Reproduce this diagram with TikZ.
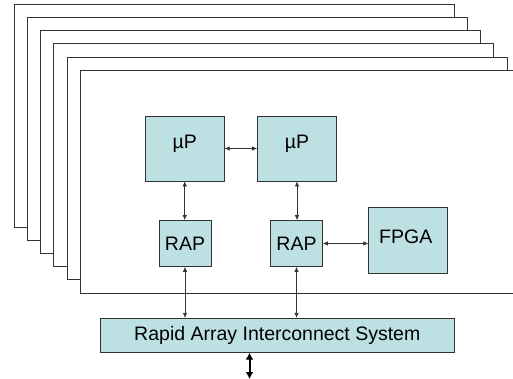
\documentclass[tikz,border=0pt]{standalone}
\usepackage{fontspec}
\setmainfont{Liberation Sans}
\usetikzlibrary{arrows.meta}
\definecolor{boxfill}{HTML}{BDE0E3}
\definecolor{lncol}{HTML}{333333}
\tikzset{
  frame/.style={draw=lncol, line width=0.9pt, fill=white},
  txt/.style={font=\fontsize{19.5}{22}\selectfont},
  blk/.style={draw=lncol, line width=0.8pt, fill=boxfill, inner sep=0pt, txt},
  link/.style={draw=lncol, line width=0.7pt, {Latex[length=5pt,width=4.5pt]}-{Latex[length=5pt,width=4.5pt]}},
  biglink/.style={draw=black, line width=2pt, {Latex[length=7pt,width=8pt]}-{Latex[length=7pt,width=8pt]}}
}
\begin{document}
\begin{tikzpicture}[x=1pt,y=-1pt]
\useasboundingbox (0,0) rectangle (513,379);
% stacked frames
\foreach \i in {0,...,5}{
  \path[frame] (14+13.25*\i,4+13.3*\i) rectangle (454+13.25*\i,227+13.2*\i);
}
% blocks
\node[blk, minimum width=79pt, minimum height=65pt] (up1) at (184.7,148.5) {};
\node[txt] (t1) at (184.7,143.5) {µP};
\node[blk, minimum width=79pt, minimum height=65pt] (up2) at (297,148.5) {};
\node[txt] (t2) at (297,143.5) {µP};
\node[blk, minimum width=52pt, minimum height=46pt] (rap1) at (185,243.5) {RAP};
\node[blk, minimum width=52pt, minimum height=46pt] (rap2) at (296.5,243.5) {RAP};
\node[blk, minimum width=79pt, minimum height=66pt] (fpga) at (408.2,240.7) {};
\node[txt] (t3) at (405.7,237) {FPGA};
\node[blk, minimum width=354.7pt, minimum height=34pt] (rais) at (277.3,335.3) {Rapid Array Interconnect System};
\coordinate (ext) at (249.5,379);
% connectors
\draw[link] (up1.east) -- (up2.west);
\draw[link] (up1.south) -- (rap1.north -| up1.south);
\draw[link] (up2.south) -- (rap2.north -| up2.south);
\draw[link] (rap2.east) -- (fpga.west |- rap2.east);
\draw[link] (rap1.south) -- (rais.north -| rap1.south);
\draw[link] (rap2.south) -- (rais.north -| rap2.south);
\draw[biglink] (rais.south -| ext) -- (ext);
\end{tikzpicture}
\end{document}
